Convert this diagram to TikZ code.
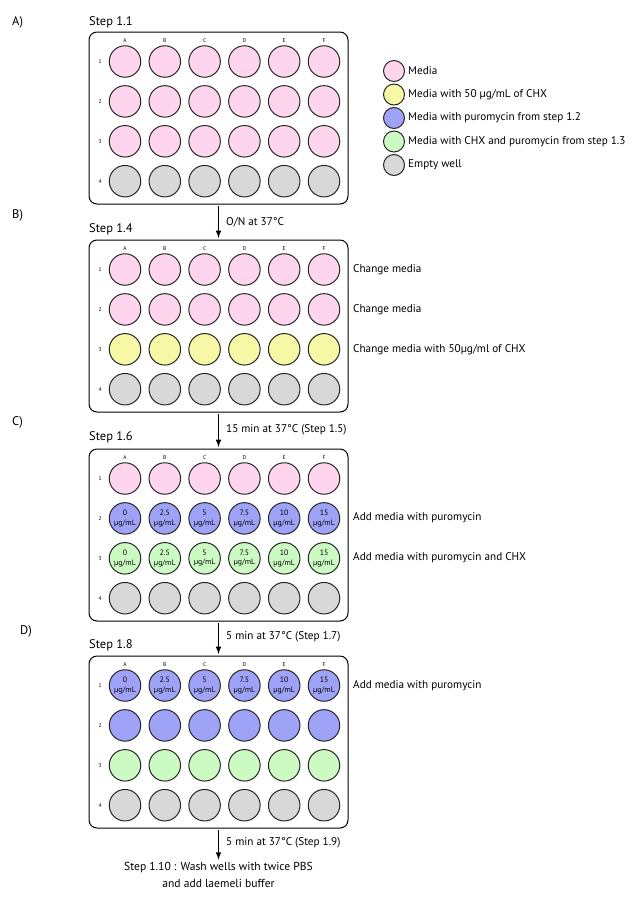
\documentclass[tikz,border=0pt]{standalone}
\usepackage{fontspec}
\setmainfont{PT Sans}
\usetikzlibrary{positioning}

\definecolor{media}{HTML}{FFD5EE}
\definecolor{chx}{HTML}{F6F8A6}
\definecolor{puro}{HTML}{9EA3F8}
\definecolor{both}{HTML}{CBFBC2}
\definecolor{empty}{HTML}{D8D8D8}

\tikzset{
	plate/.style={draw,line width=1pt,rounded corners=8pt,minimum width=259pt,minimum height=172pt,inner sep=0pt},
	well/.style={circle,draw=black!85,line width=1pt,minimum size=31.5pt,inner sep=0pt,align=center,font=\fontsize{7.8}{9.5}\selectfont},
	key/.style={circle,draw=black!85,line width=1pt,minimum size=21pt,inner sep=0pt},
	tiny/.style={font=\fontsize{5.5}{6}\selectfont},
	note/.style={anchor=west,inner sep=0pt,font=\fontsize{11.2}{13}\selectfont},
	steplab/.style={anchor=west,inner sep=0pt,font=\fontsize{12.5}{14}\selectfont},
	flow/.style={->,>=latex,line width=1.5pt,shorten >=1.5pt,shorten <=1pt}
}

\begin{document}
\begin{tikzpicture}[x=1pt,y=-1pt]
	\useasboundingbox (0,0) rectangle (632,900);

	%panel labels
	\node[steplab] (panA) at (12,22)  {A)};
	\node[steplab] (panB) at (12,215) {B)};
	\node[steplab] (panC) at (12,422) {C)};
	\node[steplab] (panD) at (20,631) {D)};
	\node[steplab] (stepA) at (89,22)  {Step 1.1};
	\node[steplab] (stepB) at (89,229) {Step 1.4};
	\node[steplab] (stepC) at (89,437) {Step 1.6};
	\node[steplab] (stepD) at (89,645) {Step 1.8};

	%plates
	\node[plate] (plateA) at (218.5,118) {};
	\node[plate] (plateB) at (218.5,326) {};
	\node[plate] (plateC) at (218.5,535) {};
	\node[plate] (plateD) at (218.5,742) {};

	%column letters and row numbers
	\foreach \p/\t in {A/32,B/240,C/449,D/656}{
		\foreach \x [count=\i from 0] in {A,...,F}
			\node[tiny] (col\p\x) at (125+39.8*\i,\t+8.5) {\x};
		\foreach \r in {1,...,4}
			\node[tiny] (row\p\r) at (100,\t+29.5+39.9*\r-39.9) {\r};
	}

	%wells, one colour per row
	\foreach \p/\t/\ca/\cb/\cc in {A/32/media/media/media,B/240/media/media/chx,C/449/media/puro/both,D/656/puro/puro/both}{
		\foreach \col [count=\r] in {\ca,\cb,\cc,empty}
			\foreach \x [count=\i from 0] in {A,...,F}
				\node[well,fill=\col] (w\p\x\r) at (125+39.8*\i,\t+29.5+39.9*\r-39.9) {};
	}

	%concentrations
	\foreach \p/\r in {C/2,C/3,D/1}
		\foreach \x/\v in {A/0,B/2.5,C/5,D/7.5,E/10,F/15}
			\node[well,draw=none,fill=none] at (w\p\x\r) {\v\\µg/mL};

	%legend
	\node[key,fill=media] (keyMedia) at (394,71)  {};
	\node[key,fill=chx]   (keyChx)   at (394,94.5) {};
	\node[key,fill=puro]  (keyPuro)  at (394,118) {};
	\node[key,fill=both]  (keyBoth)  at (394,141.5) {};
	\node[key,fill=empty] (keyEmpty) at (394,165) {};
	\node[note] at (408,71)    {Media};
	\node[note] at (408,94.5)  {Media with 50 µg/mL of CHX};
	\node[note] at (408,118)   {Media with puromycin from step 1.2};
	\node[note] at (408,141.5) {Media with CHX and puromycin from step 1.3};
	\node[note] at (408,165)   {Empty well};

	%side notes
	\node[note] (noteB1) at (353,270) {Change media};
	\node[note] (noteB2) at (353,310) {Change media};
	\node[note] (noteB3) at (353,350) {Change media with 50µg/ml of CHX};
	\node[note] (noteC2) at (353,518) {Add media with puromycin};
	\node[note] (noteC3) at (353,558) {Add media with puromycin and CHX};
	\node[note] (noteD1) at (353,686) {Add media with puromycin};

	%arrows between steps
	\node[align=center,font=\fontsize{11.6}{17}\selectfont,inner sep=1pt] (final) at (218.5,875) {Step 1.10 : Wash wells with twice PBS\\and add laemeli buffer};
	\draw[flow] (plateA.south) -- (plateB.north);
	\draw[flow] (plateB.south) -- (plateC.north);
	\draw[flow] (plateC.south) -- (plateD.north);
	\draw[flow] (plateD.south) -- (final.north);
	\node[note] (timeA) at (226,222) {O/N at 37°C};
	\node[note] (timeB) at (226,430) {15 min at 37°C (Step 1.5)};
	\node[note] (timeC) at (226,637) {5 min at 37°C (Step 1.7)};
	\node[note] (timeD) at (226,843) {5 min at 37°C (Step 1.9)};
\end{tikzpicture}
\end{document}
